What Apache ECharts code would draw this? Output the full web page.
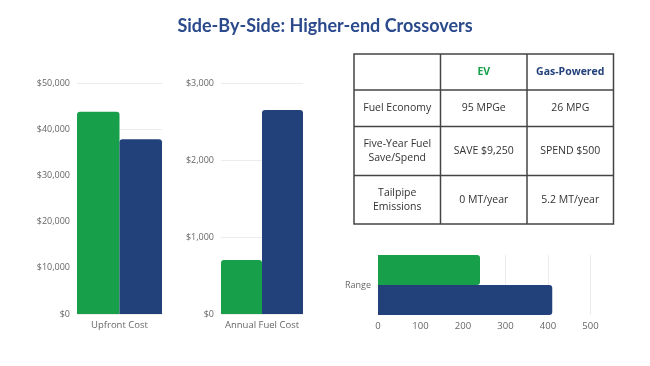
<!DOCTYPE html>
<html><head><meta charset="utf-8">
<script src="https://cdn.jsdelivr.net/npm/echarts@6/dist/echarts.min.js"></script>
<style>html,body{margin:0;padding:0;background:#fff}#c{width:650px;height:366px}</style>
</head><body><div id="c"></div>
<script>
var seriesNames = ['EV', 'Gas-Powered'];
var upfrontCat = ['Upfront Cost'];
var upfrontEV = [43800];
var upfrontGas = [37800];
var fuelCat = ['Annual Fuel Cost'];
var fuelEV = [700];
var fuelGas = [2650];
var rangeCat = ['Range'];
var rangeEV = [240];
var rangeGas = [410];
var tableHeader = ['', 'EV', 'Gas-Powered'];
var tableRow1 = ['Fuel Economy', '95 MPGe', '26 MPG'];
var tableRow2 = ['Five-Year Fuel\nSave/Spend', 'SAVE $9,250', 'SPEND $500'];
var tableRow3 = ['Tailpipe\nEmissions', '0 MT/year', '5.2 MT/year'];

var GREEN = '#179f4a', BLUE = '#22417b', FONT = 'Open Sans';
var chart = echarts.init(document.getElementById('c'), null, {renderer: 'canvas'});

function money(v){ return '$' + v.toLocaleString('en-US'); }
var axisLbl = {color: '#666', fontSize: 9, fontFamily: FONT};
var split = {show: true, lineStyle: {color: '#ececec', width: 1}};

// table layout
var tX = [354, 440.5, 527, 613.5];
var tY = [54, 90, 126.5, 175.5, 224];
var rows = [tableHeader, tableRow1, tableRow2, tableRow3];
var tableEls = [];
tableEls.push({type: 'rect', shape: {x: tX[0], y: tY[0], width: tX[3]-tX[0], height: tY[4]-tY[0]},
  style: {fill: '#fff', stroke: '#444', lineWidth: 1.5}, z: 1});
for (var i = 1; i < 3; i++) tableEls.push({type: 'line', shape: {x1: tX[i], y1: tY[0], x2: tX[i], y2: tY[4]}, style: {stroke: '#444', lineWidth: 1.5}, z: 2});
for (var j = 1; j < 4; j++) tableEls.push({type: 'line', shape: {x1: tX[0], y1: tY[j], x2: tX[3], y2: tY[j]}, style: {stroke: '#444', lineWidth: 1.5}, z: 2});
rows.forEach(function(r, ri){
  r.forEach(function(txt, ci){
    if (!txt) return;
    var head = ri === 0;
    tableEls.push({type: 'text', x: (tX[ci]+tX[ci+1])/2, y: (tY[ri]+tY[ri+1])/2, z: 3,
      style: {text: txt, align: 'center', verticalAlign: 'middle', lineHeight: 14,
        font: (head ? 'bold ' : '') + '10.5px "' + FONT + '"',
        fill: head ? (ci === 1 ? GREEN : BLUE) : '#333'}});
  });
});

chart.setOption({
  animation: false,
  title: {text: 'Side-By-Side: Higher-end Crossovers', left: 'center', top: 12,
    textStyle: {color: '#2a4a8c', fontSize: 18, fontWeight: 'bold', fontFamily: 'Lato'}},
  grid: [
    {left: 77, top: 83, width: 85, height: 231},
    {left: 221, top: 83, width: 82, height: 231},
    {left: 378, top: 255, width: 212.5, height: 60}
  ],
  xAxis: [
    {gridIndex: 0, type: 'category', data: upfrontCat, axisLine: {show: false}, axisTick: {show: false}, axisLabel: Object.assign({margin: 6}, axisLbl, {fontSize: 9.5})},
    {gridIndex: 1, type: 'category', data: fuelCat, axisLine: {show: false}, axisTick: {show: false}, axisLabel: Object.assign({margin: 6}, axisLbl, {fontSize: 9.5})},
    {gridIndex: 2, type: 'value', min: 0, max: 500, interval: 100, axisLine: {show: false}, axisTick: {show: false}, splitLine: split, axisLabel: Object.assign({margin: 6}, axisLbl, {fontSize: 9.5})}
  ],
  yAxis: [
    {gridIndex: 0, type: 'value', min: 0, max: 50000, interval: 10000, axisLine: {show: false}, axisTick: {show: false}, splitLine: split, axisLabel: Object.assign({margin: 7, formatter: money}, axisLbl)},
    {gridIndex: 1, type: 'value', min: 0, max: 3000, interval: 1000, axisLine: {show: false}, axisTick: {show: false}, splitLine: split, axisLabel: Object.assign({margin: 7, formatter: money}, axisLbl)},
    {gridIndex: 2, type: 'category', data: rangeCat, inverse: true, axisLine: {show: false}, axisTick: {show: false}, axisLabel: Object.assign({margin: 7}, axisLbl, {fontSize: 9})}
  ],
  series: [
    {name: seriesNames[0], type: 'bar', xAxisIndex: 0, yAxisIndex: 0, data: upfrontEV, barGap: '0%', barCategoryGap: '0%', itemStyle: {color: GREEN, borderRadius: [3,3,0,0]}},
    {name: seriesNames[1], type: 'bar', xAxisIndex: 0, yAxisIndex: 0, data: upfrontGas, barGap: '0%', barCategoryGap: '0%', itemStyle: {color: BLUE, borderRadius: [3,3,0,0]}},
    {name: seriesNames[0], type: 'bar', xAxisIndex: 1, yAxisIndex: 1, data: fuelEV, barGap: '0%', barCategoryGap: '0%', itemStyle: {color: GREEN, borderRadius: [3,3,0,0]}},
    {name: seriesNames[1], type: 'bar', xAxisIndex: 1, yAxisIndex: 1, data: fuelGas, barGap: '0%', barCategoryGap: '0%', itemStyle: {color: BLUE, borderRadius: [3,3,0,0]}},
    {name: seriesNames[0], type: 'bar', xAxisIndex: 2, yAxisIndex: 2, data: rangeEV, barGap: '0%', barCategoryGap: '0%', itemStyle: {color: GREEN, borderRadius: [0,3,3,0]}},
    {name: seriesNames[1], type: 'bar', xAxisIndex: 2, yAxisIndex: 2, data: rangeGas, barGap: '0%', barCategoryGap: '0%', itemStyle: {color: BLUE, borderRadius: [0,3,3,0]}}
  ],
  graphic: tableEls
});
</script></body></html>
